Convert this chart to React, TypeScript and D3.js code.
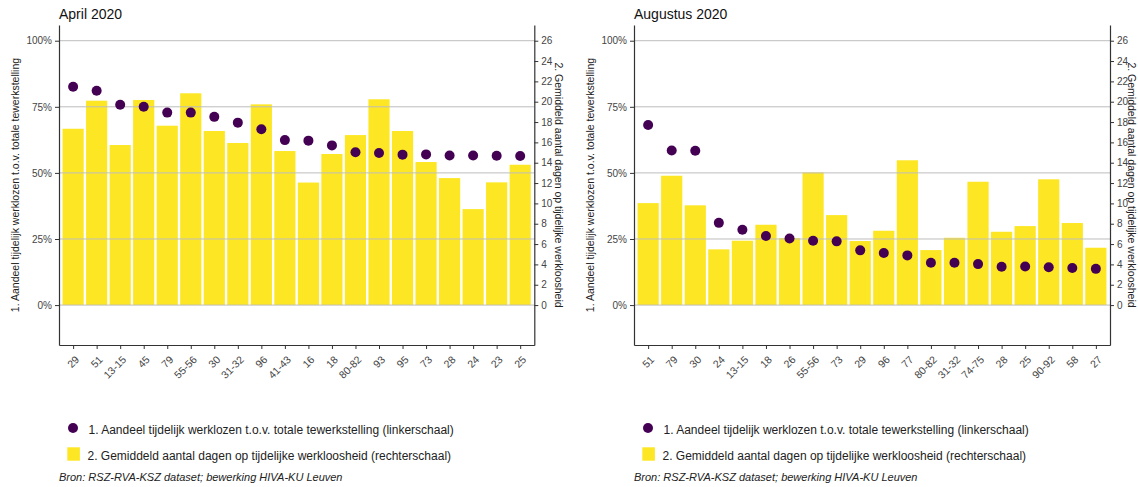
import React, { useEffect, useRef } from 'react';
import * as d3 from 'd3';

const aprilCategories = ['29', '51', '13-15', '45', '79', '55-56', '30', '31-32', '96', '41-43', '16', '18', '80-82', '93', '95', '73', '28', '24', '23', '25'];
const aprilShare = [82.6, 81.1, 75.8, 75.0, 72.8, 72.8, 71.2, 69.0, 66.5, 62.4, 62.2, 60.4, 57.8, 57.5, 56.9, 57.0, 56.6, 56.6, 56.5, 56.4];
const aprilDays = [17.34, 20.1, 15.74, 20.17, 17.64, 20.83, 17.12, 15.94, 19.74, 15.15, 12.05, 14.86, 16.72, 20.24, 17.12, 14.07, 12.49, 9.44, 12.07, 13.8];

const augCategories = ['51', '79', '30', '24', '13-15', '18', '26', '55-56', '73', '29', '96', '77', '80-82', '31-32', '74-75', '28', '25', '90-92', '58', '27'];
const augShare = [68.1, 58.5, 58.4, 31.1, 28.5, 26.1, 25.2, 24.3, 24.1, 20.7, 19.7, 18.8, 16.0, 16.0, 15.5, 14.5, 14.6, 14.3, 14.0, 13.7];
const augDays = [10.03, 12.72, 9.81, 5.48, 6.33, 7.9, 6.59, 13.05, 8.85, 6.3, 7.31, 14.24, 5.41, 6.62, 12.13, 7.21, 7.77, 12.37, 8.07, 5.64];

const shareTicks = [0, 25, 50, 75, 100];
const dayTicks = [0, 2, 4, 6, 8, 10, 12, 14, 16, 18, 20, 22, 24, 26];

const leftTitle = '1. Aandeel tijdelijk werklozen t.o.v. totale tewerkstelling';
const rightTitle = '2. Gemiddeld aantal dagen op tijdelijke werkloosheid';
const legend1 = '1. Aandeel tijdelijk werklozen t.o.v. totale tewerkstelling (linkerschaal)';
const legend2 = '2. Gemiddeld aantal dagen op tijdelijke werkloosheid (rechterschaal)';
const source = 'Bron: RSZ-RVA-KSZ dataset; bewerking HIVA-KU Leuven';

const FONT = '"Liberation Sans", Arial, sans-serif';
const PURPLE = '#440154';
const YELLOW = '#FDE725';

const top = 25;
const plotH = 320;
// left scale domain chosen so 100% and 0% land where the reference has them
const shareDomain: [number, number] = [-15.1, 105.94];

interface PanelProps {
  title: string;
  categories: string[];
  share: number[];
  days: number[];
  left: number;
  width: number;
  titleGap: number;
}

const Panel: React.FC<PanelProps> = ({ title, categories, share, days, left, width, titleGap }) => {
  const gRef = useRef<SVGGElement>(null);

  useEffect(() => {
    const g = d3.select(gRef.current);
    g.selectAll('*').remove();

    const x = d3.scalePoint<string>().domain(categories).range([0, width]).padding(0.6);
    const yL = d3.scaleLinear().domain(shareDomain).range([plotH, 0]);
    const yR = d3
      .scaleLinear()
      .domain([(shareDomain[0] * 26) / 100, (shareDomain[1] * 26) / 100])
      .range([plotH, 0]);
    const bw = x.step() * 0.9;

    g.append('g')
      .selectAll('rect')
      .data(days)
      .join('rect')
      .attr('x', (_, i) => (x(categories[i]) as number) - bw / 2)
      .attr('width', bw)
      .attr('y', (d) => yR(d))
      .attr('height', (d) => yR(0) - yR(d))
      .attr('fill', YELLOW);

    g.append('g')
      .selectAll('line')
      .data(shareTicks)
      .join('line')
      .attr('x1', 0)
      .attr('x2', width)
      .attr('y1', (d) => yL(d))
      .attr('y2', (d) => yL(d))
      .attr('stroke', '#bdbdbd')
      .attr('stroke-width', 1);

    g.append('g')
      .selectAll('circle')
      .data(share)
      .join('circle')
      .attr('cx', (_, i) => x(categories[i]) as number)
      .attr('cy', (d) => yL(d))
      .attr('r', 5)
      .attr('fill', PURPLE);

    const styleAxis = (a: any) => {
      a.select('.domain').attr('stroke', '#333').attr('stroke-width', 1.2);
      a.selectAll('.tick line').attr('stroke', '#333');
      a.selectAll('.tick text').attr('fill', '#444').style('font-size', '10px').style('font-family', FONT);
    };

    const leftAxis = g
      .append('g')
      .call(
        d3
          .axisLeft(yL)
          .tickValues(shareTicks)
          .tickFormat((d) => `${d}%`)
          .tickSize(4)
          .tickSizeOuter(0)
          .tickPadding(3)
      );
    styleAxis(leftAxis);

    const rightAxis = g
      .append('g')
      .attr('transform', `translate(${width},0)`)
      .call(d3.axisRight(yR).tickValues(dayTicks).tickSize(4).tickSizeOuter(0).tickPadding(3));
    styleAxis(rightAxis);

    const bottomAxis = g
      .append('g')
      .attr('transform', `translate(0,${plotH})`)
      .call(d3.axisBottom(x).tickSize(4).tickSizeOuter(0));
    styleAxis(bottomAxis);
    bottomAxis
      .selectAll('.tick text')
      .attr('x', 0)
      .attr('y', 0)
      .attr('dy', '0.71em')
      .attr('text-anchor', 'end')
      .style('font-size', '10.5px')
      .attr('transform', 'translate(1,10) rotate(-45)');
  }, [categories, share, days, width]);

  return (
    <g transform={`translate(${left},${top})`} style={{ fontFamily: FONT }}>
      <text x={0} y={19 - top} fontSize={14} fill="#111">
        {title}
      </text>
      <g ref={gRef} />
      <text
        transform={`translate(${-44},${plotH / 2}) rotate(-90)`}
        textAnchor="middle"
        dy="0.35em"
        fontSize={10.5}
        fill="#222"
      >
        {leftTitle}
      </text>
      <text
        transform={`translate(${width + titleGap},${plotH / 2}) rotate(90)`}
        textAnchor="middle"
        dy="0.35em"
        fontSize={10.5}
        fill="#222"
      >
        {rightTitle}
      </text>
      <g transform={`translate(0,${428 - top})`}>
        <circle cx={14} cy={0} r={5} fill={PURPLE} />
        <text x={29.5} y={5.5} fontSize={12} fill="#222">
          {legend1}
        </text>
        <rect x={8.3} y={19.3} width={12.6} height={13.4} fill={YELLOW} />
        <text x={28.5} y={32} fontSize={12} fill="#222">
          {legend2}
        </text>
        <text x={0} y={53} fontSize={11} fontStyle="italic" fill="#222">
          {source}
        </text>
      </g>
    </g>
  );
};

const App: React.FC = () => {
  return (
    <svg
      width={1138}
      height={487}
      style={{ position: 'absolute', left: 0, top: 0, background: '#fff' }}
    >
      <Panel
        title="April 2020"
        categories={aprilCategories}
        share={aprilShare}
        days={aprilDays}
        left={59}
        width={475.3}
        titleGap={24}
      />
      <Panel
        title="Augustus 2020"
        categories={augCategories}
        share={augShare}
        days={augDays}
        left={634}
        width={476}
        titleGap={22}
      />
    </svg>
  );
};

export default App;
